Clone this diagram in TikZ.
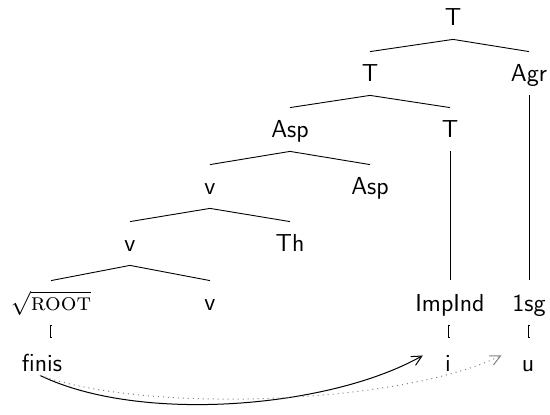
\documentclass[tikz,border=0pt]{standalone}
\usetikzlibrary{arrows.meta}
\begin{document}
\begin{tikzpicture}[x=0.5pt,y=-0.5pt,
  lab/.style={anchor=base,font=\fontsize{12.3}{14}\sffamily,text height=8.5pt,text depth=0pt,inner ysep=6.5pt,inner xsep=0pt},
  br/.style={line width=0.45pt},
  mk/.style={line width=0.4pt},
  mv/.style={line width=0.5pt,-{Straight Barb[length=5pt,width=5pt]}}]
\useasboundingbox (0,0) rectangle (550,415);
% nodes
\node[lab] (t0) at (453,26) {T};
\node[lab] (t1) at (370,82) {T};
\node[lab] (agr) at (529,82) {Agr};
\node[lab] (asp1) at (290,138) {Asp};
\node[lab] (t2) at (450,138) {T};
\node[lab] (v1) at (210,195) {v};
\node[lab] (asp2) at (370,195) {Asp};
\node[lab] (v2) at (130,252) {v};
\node[lab] (th) at (290,252) {Th};
\node[lab] (root) at (51,311) {$\sqrt{\textsc{root}}$};
\node[lab] (v3) at (210,311) {v};
\node[lab] (imp) at (450,312) {ImpInd};
\node[lab] (sg) at (529,312) {1sg};
\node[lab] (finis) at (42,372) {finis};
\node[lab] (i) at (448,372) {i};
\node[lab] (u) at (528,372) {u};
% branches
\draw[br] (t1.north) -- (t0.south) -- (agr.north);
\draw[br] (asp1.north) -- (t1.south) -- (t2.north);
\draw[br] (v1.north) -- (asp1.south) -- (asp2.north);
\draw[br] (v2.north) -- (v1.south) -- (th.north);
\draw[br] (root.north) -- (v2.south) -- (v3.north);
\draw[br] (t2.south) -- ([yshift=1pt]imp.north);
\draw[br] (agr.south -| sg.north) -- ([yshift=1pt]sg.north);
% small exponent marks
\foreach \n/\x in {root/50,imp/448,sg/528}{
  \draw[mk] (\x+1.5,325) -- (\x,325) -- (\x,337) -- (\x+1.5,337);
}
% movement arrows
\draw[mv] ([xshift=-1pt,yshift=5pt]finis.south) .. controls (140,424) and (330,408) .. ([xshift=-11pt,yshift=4pt]i.west);
\draw[mv,dotted,gray] ([xshift=-1pt,yshift=5pt]finis.south) .. controls (150,414) and (400,404) .. ([xshift=-10pt,yshift=4pt]u.west);
\end{tikzpicture}
\end{document}
